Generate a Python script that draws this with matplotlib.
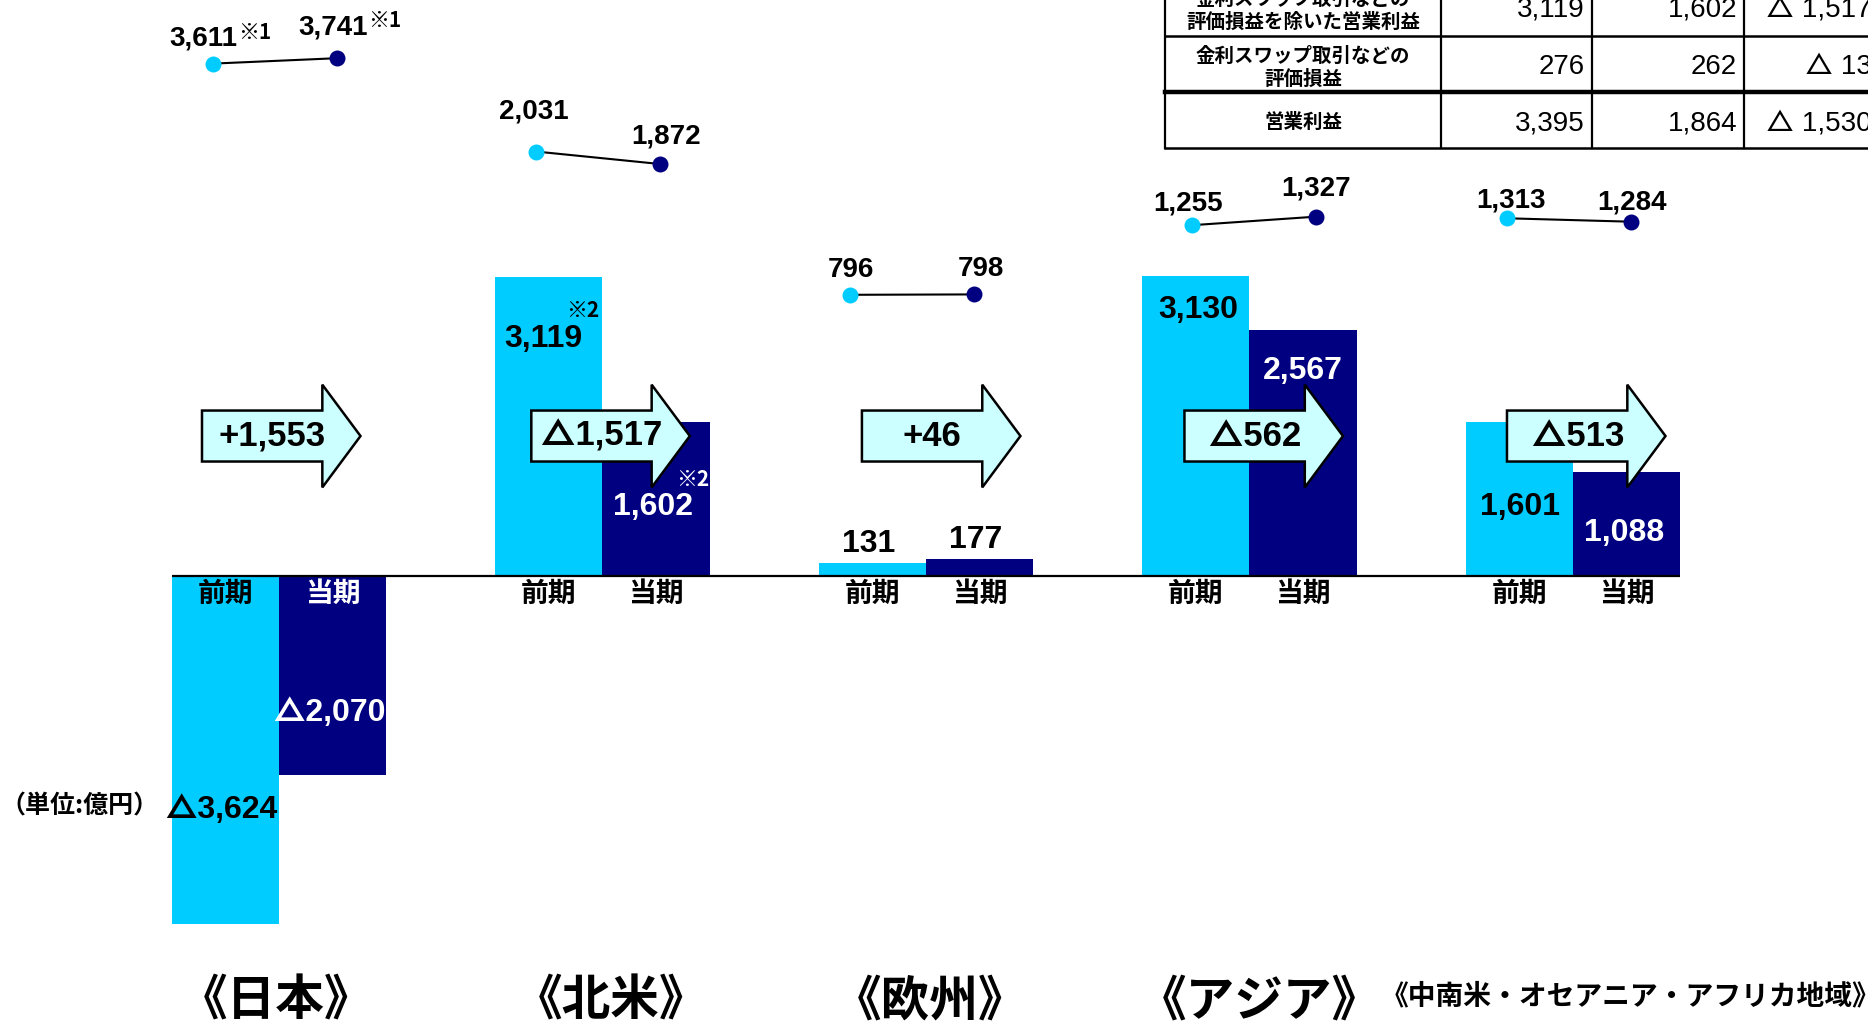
""" Regional operating profit: previous vs current period """
import numpy as np
import matplotlib.pyplot as plt
from matplotlib.patches import FancyArrow

# Liberation for digits, Inter for the heavy triangle, Noto for Japanese
plt.rcParams['font.family'] = ['Liberation Sans', 'Inter', 'Noto Sans CJK JP']
plt.rcParams['font.weight'] = 'bold'
JP = ['Noto Sans CJK JP', 'DejaVu Sans']

COLOR_PREV = "#00CCFF"
COLOR_CURR = "#000080"
COLOR_ARROW = "#CCFFFF"

# ---- data ----
regions = ["《日本》", "《北米》", "《欧州》", "《アジア》", "《中南米・オセアニア・アフリカ地域》"]
prev_profit = [-3624, 3119, 131, 3130, 1601]
curr_profit = [-2070, 1602, 177, 2567, 1088]
change = [1553, -1517, 46, -562, -513]
prev_sales = [3611, 2031, 796, 1255, 1313]
curr_sales = [3741, 1872, 798, 1327, 1284]
sales_note = ["※1", "", "", "", ""]
profit_note = ["", "※2", "", "", ""]
period_labels = ["前期", "当期"]
unit_label = "（単位:億円）"

table_rows = ["金利スワップ取引などの\n評価損益を除いた営業利益", "金利スワップ取引などの\n評価損益", "営業利益"]
table_prev = [3119, 276, 3395]
table_curr = [1602, 262, 1864]
table_diff = [-1517, -13, -1530]


def fmt(v, space=""):
    return f"{v:,}" if v >= 0 else f"△{space}{-v:,}"


PX = 0.72  # pixels -> points at dpi 100

fig = plt.figure(figsize=(18.68, 10.25), dpi=100)
ax = fig.add_axes([0, 0, 1, 1])
ax.set_xlim(-0.8624, 4.912)
ax.set_ylim(-4677, 6000)
ax.axis("off")

x = np.arange(len(regions))
w = 0.331

ax.bar(x - w / 2, prev_profit, w, color=COLOR_PREV, zorder=2)
ax.bar(x + w / 2, curr_profit, w, color=COLOR_CURR, zorder=2)
ax.hlines(0, x[0] - w, x[-1] + w, color="black", lw=1.6, zorder=3)

# value labels inside bars (px offsets into the bar from its end)
prev_dy = [114, 62, None, 34, 85]
curr_dy = [62, 85, None, 41, 61]
prev_dx = [-5, -6, -4, 2, 1]
curr_dx = [-4, -3, -4, 0, -2]
for i in range(len(regions)):
    for v, dy, dx, xc, col in [(prev_profit[i], prev_dy[i], prev_dx[i], x[i] - w / 2, "black"),
                               (curr_profit[i], curr_dy[i], curr_dx[i], x[i] + w / 2, "white")]:
        if dy is None:
            ax.annotate(fmt(v), (xc, v), xytext=(dx * PX, 4 * PX), textcoords="offset points",
                        ha="center", va="bottom", fontsize=23, color="black", zorder=6)
        else:
            sign = -1 if v > 0 else 1
            ax.annotate(fmt(v), (xc, v), xytext=(dx * PX, sign * dy * PX), textcoords="offset points",
                        ha="center", va="center", fontsize=23 if v > -2500 or v < -3000 else 22.5,
                        color=col, zorder=6)
            if profit_note[i]:
                ax.annotate(profit_note[i], (xc, v), xytext=((dx + 40) * PX, (sign * dy + 28) * PX),
                            textcoords="offset points", ha="center", va="center",
                            fontsize=15, color=col, zorder=6, family=JP)

# period labels under the baseline
for i in range(len(regions)):
    for j, xc in enumerate([x[i] - w / 2, x[i] + w / 2]):
        col = "black"
        if prev_profit[i] < 0 and j == 1:
            col = "white"
        ax.annotate(period_labels[j], (xc, 0), xytext=(0, -18 * PX), textcoords="offset points",
                    ha="center", va="center", fontsize=20, color=col, zorder=6, family=JP)

# change arrows
arrow_y = 1458
arrow_start = [-0.238, -0.22, -0.198, -0.201, -0.204]
for i in range(len(regions)):
    x0 = x[i] + arrow_start[i]
    ax.add_patch(FancyArrow(x0, arrow_y, 0.49, 0, width=531, head_width=1070, head_length=0.118,
                            length_includes_head=True, fc=COLOR_ARROW, ec="black", lw=1.8, zorder=4))
    lbl = f"+{change[i]:,}" if change[i] > 0 else fmt(change[i])
    ax.text(x0 + 0.216, arrow_y, lbl, ha="center", va="center", fontsize=25, zorder=6)

# region titles
title_dx = [-0.01, 0.025, 0.012, 0.03, 0.177]
for i, r in enumerate(regions):
    long_name = len(r) > 6
    ax.text(x[i] + title_dx[i], -4380 if long_name else -4430, r, ha="center", va="center",
            fontsize=20 if long_name else 35, family=JP)

# sales dots on a log axis
ax2 = ax.twinx()
ax2.set_position([0, 0, 1, 1])
ax2.set_yscale("log")
ax2.set_ylim(6.71, 5474)
ax2.axis("off")
dot_shift = [0, 0, -0.03, 0.027, 0]
prev_lbl_off = [(-10, 25), (-3, 40), (1, 25), (-4, 22), (4, 18)]
curr_lbl_off = [(-4, 31), (6, 28), (7, 25), (0, 28), (1, 19)]
for i in range(len(regions)):
    xp = x[i] - 0.204 + dot_shift[i]
    xq = x[i] + 0.179 + dot_shift[i]
    ax2.plot([xp, xq], [prev_sales[i], curr_sales[i]], color="black", lw=1.5, zorder=1)
    ax2.plot(xp, prev_sales[i], "o", color=COLOR_PREV, ms=11.5, mec="none", zorder=2)
    ax2.plot(xq, curr_sales[i], "o", color=COLOR_CURR, ms=11.5, mec="none", zorder=2)
    for xd, v, (dx, dy) in [(xp, prev_sales[i], prev_lbl_off[i]), (xq, curr_sales[i], curr_lbl_off[i])]:
        ax2.annotate(fmt(v), (xd, v), xytext=(dx * PX, dy * PX), textcoords="offset points",
                     ha="center", va="center", fontsize=20)
        if sales_note[i]:
            ax2.annotate(sales_note[i], (xd, v), xytext=((dx + 52) * PX, (dy + 6.5) * PX),
                         textcoords="offset points", ha="center", va="center", fontsize=15, family=JP)

# overlay in pixel coordinates for the table and unit note
axp = fig.add_axes([0, 0, 1, 1])
axp.set_xlim(0, 1868)
axp.set_ylim(1025, 0)
axp.axis("off")
axp.text(80, 806, unit_label, ha="center", va="center", fontsize=18, family=JP)

col_x = [1165, 1441, 1592, 1744]
row_bottom = [36, 91.5, 148]
row_mid = [10, 67, 123]
for cx in col_x:
    axp.plot([cx, cx], [-5, 148], color="black", lw=1.6)
for k, yb in enumerate(row_bottom):
    axp.plot([1165, 1868], [yb, yb], color="black", lw=3.2 if k == 1 else 1.8)
for k, name in enumerate(table_rows):
    ym = row_mid[k] + (1 if "\n" in name else -1)
    axp.text(1303, ym, name, ha="center", va="center", fontsize=14,
             family=JP, linespacing=1.25)
    axp.text(1585, row_mid[k], fmt(table_prev[k]), ha="right", va="center", fontsize=20, fontweight="normal")
    axp.text(1737, row_mid[k], fmt(table_curr[k]), ha="right", va="center", fontsize=20, fontweight="normal")
    axp.text(1872, row_mid[k], fmt(table_diff[k], " "), ha="right", va="center", fontsize=20, fontweight="normal")

fig.savefig("out.png", dpi=100)
